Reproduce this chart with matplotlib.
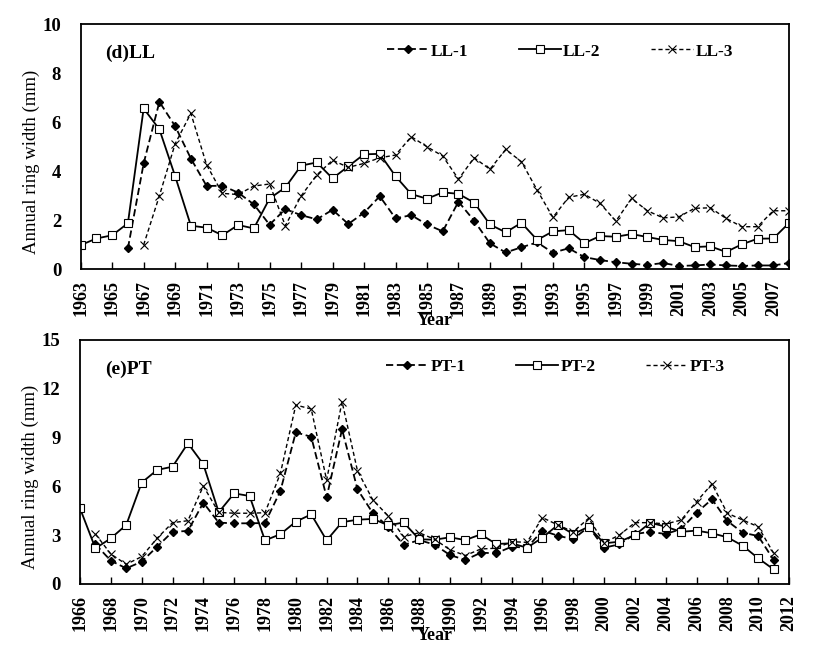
import matplotlib
matplotlib.use("Agg")
import matplotlib.pyplot as plt

# ── Data: (d) LL ─────────────────────────────────────────────────────────
ll_years = list(range(1963, 2009))
ll1_years = list(range(1966, 2009))
ll3_years = list(range(1967, 2009))

ll1 = [0.86, 4.32, 6.83, 5.84, 4.52, 3.40, 3.41, 3.13, 2.65, 1.82,
       2.46, 2.21, 2.04, 2.43, 1.85, 2.31, 2.98, 2.08, 2.21, 1.83,
       1.55, 2.76, 1.98, 1.06, 0.69, 0.90, 1.10, 0.68, 0.86, 0.50,
       0.38, 0.29, 0.23, 0.18, 0.26, 0.14, 0.16, 0.20, 0.16, 0.14,
       0.16, 0.16, 0.26]
ll2 = [0.99, 1.26, 1.39, 1.88, 6.56, 5.71, 3.80, 1.78, 1.70, 1.39,
       1.81, 1.67, 2.89, 3.34, 4.23, 4.36, 3.71, 4.20, 4.69, 4.71,
       3.80, 3.07, 2.88, 3.14, 3.08, 2.72, 1.83, 1.51, 1.90, 1.20,
       1.55, 1.60, 1.07, 1.36, 1.33, 1.44, 1.32, 1.20, 1.15, 0.91,
       0.94, 0.71, 1.02, 1.25, 1.26, 1.89]
ll3 = [1.00, 3.00, 5.12, 6.36, 4.26, 3.10, 3.05, 3.40, 3.48, 1.78,
       2.99, 3.85, 4.45, 4.16, 4.32, 4.55, 4.66, 5.41, 5.00, 4.62,
       3.68, 4.55, 4.08, 4.89, 4.39, 3.23, 2.12, 2.94, 3.06, 2.69,
       1.97, 2.89, 2.39, 2.10, 2.14, 2.49, 2.51, 2.08, 1.74, 1.74,
       2.39, 2.39]

# ── Data: (e) PT ─────────────────────────────────────────────────────────
pt_years = list(range(1966, 2012))
pt13_years = list(range(1967, 2012))

pt1 = [2.44, 1.43, 0.96, 1.37, 2.29, 3.21, 3.26, 5.00, 3.77, 3.73,
       3.73, 3.75, 5.72, 9.32, 9.05, 5.33, 9.51, 5.82, 4.35, 3.52,
       2.40, 2.70, 2.42, 1.78, 1.48, 1.92, 1.89, 2.29, 2.23, 3.28,
       2.97, 2.75, 3.52, 2.23, 2.44, 3.07, 3.21, 3.07, 3.38, 4.38,
       5.21, 3.87, 3.15, 2.95, 1.48]
pt2 = [4.65, 2.19, 2.81, 3.63, 6.23, 7.01, 7.21, 8.65, 7.36, 4.41,
       5.57, 5.41, 2.68, 3.06, 3.83, 4.28, 2.68, 3.80, 3.95, 4.00,
       3.61, 3.78, 2.75, 2.72, 2.87, 2.70, 3.05, 2.46, 2.50, 2.23,
       2.85, 3.63, 3.07, 3.52, 2.50, 2.60, 3.01, 3.77, 3.52, 3.21,
       3.28, 3.12, 2.87, 2.35, 1.58, 0.90]
pt3 = [3.07, 1.84, 1.21, 1.68, 2.81, 3.77, 3.89, 6.02, 4.40, 4.35,
       4.35, 4.38, 6.80, 11.00, 10.76, 6.39, 11.21, 6.96, 5.16, 4.18,
       2.91, 3.15, 2.75, 2.10, 1.75, 2.15, 2.20, 2.60, 2.56, 4.08,
       3.63, 3.21, 4.04, 2.54, 3.01, 3.77, 3.77, 3.69, 3.93, 5.06,
       6.15, 4.35, 3.93, 3.52, 1.89]

plt.rcParams["font.family"] = "Liberation Serif"

fig = plt.figure(figsize=(8.25, 6.46), dpi=100)
ax1 = fig.add_axes([0.0978, 0.583, 0.8586, 0.3797])
ax2 = fig.add_axes([0.097, 0.096, 0.8594, 0.3777])

s1 = dict(color="black", ls=(0, (4, 2)), lw=1.3, marker="D", ms=4,
          mfc="black", mec="black")
s2 = dict(color="black", ls="-", lw=1.3, marker="s", ms=5.5,
          mfc="white", mec="black", mew=0.8)
s3 = dict(color="black", ls=(0, (3, 2)), lw=1.0, marker="x", ms=5.5,
          mew=0.8)


def style_axis(ax, x0, x1, ymax, ystep, label):
    ax.set_xlim(x0, x1)
    ax.set_ylim(0, ymax)
    ax.set_xticks(range(x0, x1 + 1, 2))
    ax.set_yticks(range(0, ymax + 1, ystep))
    ax.tick_params(axis="x", direction="in", length=5, width=1, rotation=90,
                   labelsize=13, pad=8)
    ax.tick_params(axis="y", length=0, labelsize=13.5, pad=14)
    for t in ax.get_xticklabels() + ax.get_yticklabels():
        t.set_fontweight("bold")
    for sp in ax.spines.values():
        sp.set_linewidth(1.3)
    ax.set_ylabel("Annual ring width (mm)", fontsize=13.5)
    ax.yaxis.set_label_coords(-0.058, 0.44)
    ax.text(0.035, 0.88, label, transform=ax.transAxes, fontsize=14,
            fontweight="bold", va="center")


# (d) LL
ax1.plot(ll1_years, ll1, label="LL-1", **s1)
ax1.plot(ll_years, ll2, label="LL-2", **s2)
ax1.plot(ll3_years, ll3, label="LL-3", **s3)
style_axis(ax1, 1963, 2008, 10, 2, "(d)LL")
ax1.set_xlabel("Year", fontsize=13, fontweight="bold", labelpad=-3)

# (e) PT
ax2.plot(pt13_years, pt1, label="PT-1", **s1)
ax2.plot(pt_years, pt2, label="PT-2", **s2)
ax2.plot(pt13_years, pt3, label="PT-3", **s3)
style_axis(ax2, 1966, 2012, 15, 3, "(e)PT")
ax2.set_xlabel("Year", fontsize=13, fontweight="bold", labelpad=-3)

for ax in (ax1, ax2):
    ax.legend(loc="upper left", bbox_to_anchor=(0.41, 0.985), ncol=3,
              frameon=False, handlelength=2.4, handletextpad=0.15,
              columnspacing=2.9,
              prop={"weight": "bold", "size": 12.5})

fig.savefig("out.png", dpi=100, facecolor="white")
